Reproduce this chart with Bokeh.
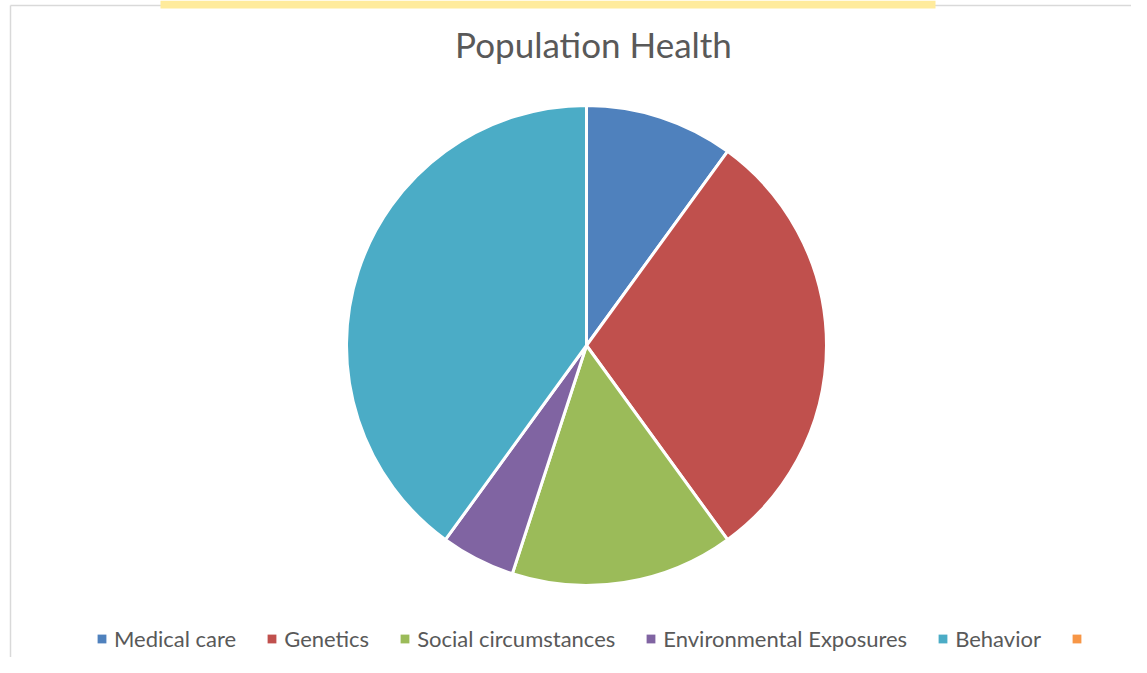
import math
from bokeh.plotting import figure
from bokeh.models import ColumnDataSource, Range1d, Legend, LegendItem, CDSView, BooleanFilter
from bokeh.core.properties import value
from bokeh.embed import file_html
from bokeh.resources import INLINE

# ---- data ----
categories = ["Medical care", "Genetics", "Social circumstances", "Environmental Exposures", "Behavior", " "]
shares = [10, 30, 15, 5, 40, 0]
colors = ["#4F81BD", "#C0504D", "#9BBB59", "#8064A2", "#4BACC6", "#F79646"]
title_text = "Population Health"

# ---- layout ----
W, H = 1131, 657
CX, CY, R = 586, 312, 240
TEXT_COLOR = "#595959"
FONT = "Lato"

total = sum(shares)
starts, ends = [], []
acc = 0.0
for v in shares:
    starts.append(math.pi / 2 - 2 * math.pi * acc / total)
    acc += v
    ends.append(math.pi / 2 - 2 * math.pi * acc / total)

src = ColumnDataSource(dict(
    x=[CX] * len(shares), y=[CY] * len(shares),
    start=starts, end=ends, color=colors, cat=categories, val=shares,
))

p = figure(width=W, height=H, x_range=Range1d(0, W), y_range=Range1d(0, H),
           output_backend="svg", toolbar_location=None, min_border=0)
p.axis.visible = False
p.grid.visible = False
p.outline_line_color = None
p.background_fill_color = "white"

# chart border (left and top edges visible in the reference)
p.segment(x0=[10, 10], y0=[0, H - 5], x1=[10, W], y1=[H - 5, H - 5], line_color="#D9D9D9", line_width=1.5)
# highlight band at the top edge of the reference screenshot
p.quad(left=[160], right=[935], bottom=[H - 8], top=[H], fill_color="#FFEB9C", line_color=None)

# legend swatches (zero radius: nothing drawn in the plot, only used by the legend)
swatch = p.wedge(x="x", y="y", radius=0, radius_units="screen", start_angle="start", end_angle="end",
                 direction="clock", fill_color="color", line_color=None, source=src)
# slices (only non-empty ones)
view = CDSView(filter=BooleanFilter([v > 0 for v in shares]))
p.wedge(x="x", y="y", radius=R, radius_units="screen", start_angle="start", end_angle="end",
        direction="clock", fill_color="color", line_color="white", line_width=3,
        source=src, view=view)

p.text(x=[593], y=[H - 43], text=[title_text], text_font=value(FONT), text_font_size="35px",
       text_color=TEXT_COLOR, text_align="center", text_baseline="alphabetic")

items = [LegendItem(label=value(c), renderers=[swatch], index=i) for i, c in enumerate(categories)]

legend = Legend(items=items, orientation="horizontal", location=(96, 5),
                glyph_width=11, glyph_height=11, label_height=11, label_standoff=7, spacing=30,
                padding=0, margin=0, border_line_color=None, background_fill_alpha=0,
                label_text_font=FONT, label_text_font_size="22px", label_text_color=TEXT_COLOR,
                label_text_baseline="middle")
p.add_layout(legend, "center")

open("out.html", "w").write(file_html(p, INLINE))
